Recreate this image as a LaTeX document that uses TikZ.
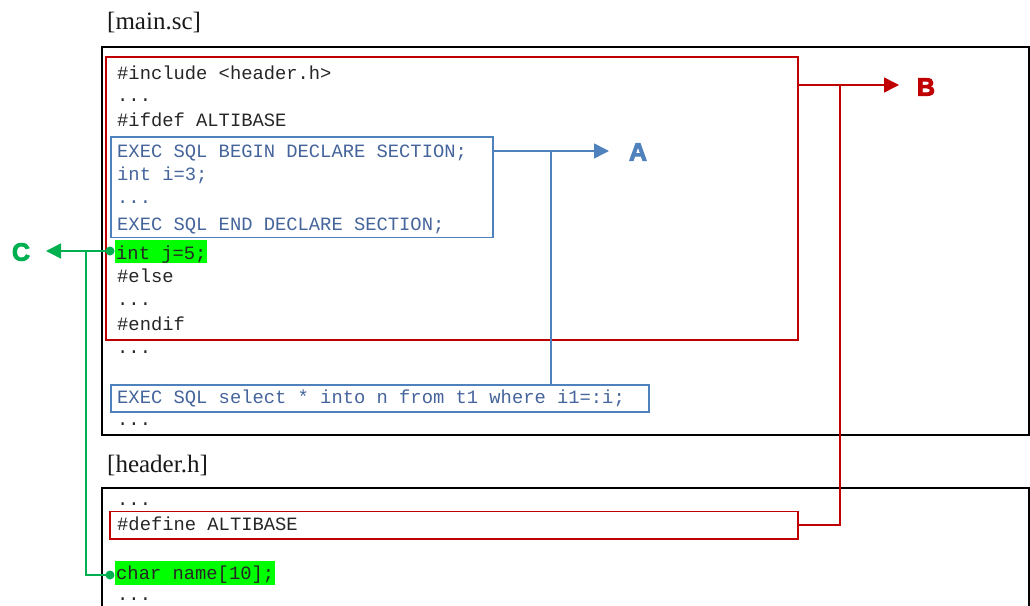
\documentclass[tikz,border=0pt]{standalone}
\usepackage{fontspec}
\setmonofont{Liberation Mono}
\newfontfamily\lblfont[FakeBold=3.5]{Liberation Sans Bold}
\newfontfamily\titlefont{Liberation Serif}
\usetikzlibrary{arrows.meta}
\definecolor{cred}{RGB}{192,0,0}
\definecolor{cblue}{RGB}{79,129,189}
\definecolor{cbluetext}{RGB}{68,100,155}
\definecolor{cgreen}{RGB}{0,176,80}
\definecolor{hl}{RGB}{0,255,0}
\begin{document}
\begin{tikzpicture}[x=1pt,y=-1pt,
  framebox/.style={draw=black, line width=2pt, anchor=north west, inner sep=0pt},
  redbox/.style={draw=cred, line width=1.6pt, anchor=north west, inner sep=0pt},
  bluebox/.style={draw=cblue, line width=1.6pt, anchor=north west, inner sep=0pt},
  code/.style={anchor=base west, inner xsep=1pt, inner ysep=0pt, font=\fontsize{18.8}{20}\selectfont\ttfamily, text=black!85, text height=13pt, text depth=4pt},
  bcode/.style={code, text=cbluetext},
  hlcode/.style={code, fill=hl},
  title/.style={anchor=base west, inner sep=0pt, font=\titlefont\fontsize{25}{25}\selectfont, text=black!90},
  lbl/.style={inner sep=0pt, font=\lblfont\fontsize{25}{25}\selectfont},
  redline/.style={draw=cred, line width=1.5pt},
  blueline/.style={draw=cblue, line width=1.5pt},
  greenline/.style={draw=cgreen, line width=1.5pt},
  tip/.style={-{Triangle[length=15pt,width=15pt]}},
  gdot/.style={circle, fill=cgreen, inner sep=0pt, minimum size=9pt}
]
\useasboundingbox (0,0) rectangle (1030,605);

% titles
\node[title] (tmain) at (107,29) {[main.sc]};
\node[title] (thead) at (107,472) {[header.h]};

% frames
\node[framebox, minimum width=927pt, minimum height=388.5pt] (mainbox) at (101,45.5) {};
\node[framebox, minimum width=927pt, minimum height=140pt] (headerbox) at (101,487) {};

% inner boxes
\node[redbox, minimum width=692pt, minimum height=283pt] (ifdef) at (105,56) {};
\node[bluebox, minimum width=382pt, minimum height=100.5pt] (declare) at (110,136) {};
\node[bluebox, minimum width=538pt, minimum height=27pt] (selectbox) at (110,384) {};
\node[redbox, minimum width=688pt, minimum height=27.5pt] (define) at (109,510.5) {};

% main.sc code
\node[code] (m1) at (116,79) {\#include <header.h>};
\node[code] (m2) at (116,101) {...};
\node[code] (m3) at (116,126) {\#ifdef ALTIBASE};
\node[bcode] (m4) at (116,157) {EXEC SQL BEGIN DECLARE SECTION;};
\node[bcode] (m5) at (116,180) {int i=3;};
\node[bcode] (m6) at (116,203) {...};
\node[bcode] (m7) at (116,230) {EXEC SQL END DECLARE SECTION;};
\node[hlcode, text height=19.5pt, text depth=4pt] (m8) at (115,259) {int j=5;};
\node[code] (m9) at (116,282) {\#else};
\node[code] (m10) at (116,305) {...};
\node[code] (m11) at (116,330) {\#endif};
\node[code] (m12) at (116,353) {...};
\node[bcode] (m13) at (116,403) {EXEC SQL select * into n from t1 where i1=:i;};
\node[code] (m14) at (116,425) {...};

% header.h code
\node[code] (h1) at (116,505) {...};
\node[code] (h2) at (116,530) {\#define ALTIBASE};
\node[hlcode, text height=18pt, text depth=6pt] (h3) at (115,579) {char name[10];};
\node[code] (h4) at (116,600) {...};

% labels
\node[lbl, text=cblue] (la) at (638,152) {A};
\node[lbl, text=cred] (lb) at (926,87) {B};
\node[lbl, text=cgreen] (lc) at (21,252) {C};

% A connector
\coordinate (aTip) at (609,151);
\coordinate (aJ) at (551,151);
\draw[blueline, tip] (declare.east |- aTip) -- (aTip);
\draw[blueline] (aJ) -- (aJ |- selectbox.north);

% B connector
\coordinate (bTip) at (899,85);
\coordinate (bJ) at (840,85);
\draw[redline, tip] (ifdef.east |- bTip) -- (bTip);
\draw[redline] (define.east) -| (bJ);

% C connector
\node[gdot] (jdot) at (110,251) {};
\node[gdot] (cdot) at (110,575) {};
\coordinate (cTip) at (46,251);
\coordinate (cJ) at (86,251);
\draw[greenline, tip] (jdot.center) -- (cTip);
\draw[greenline] (cJ) |- (cdot.center);
\end{tikzpicture}
\end{document}
